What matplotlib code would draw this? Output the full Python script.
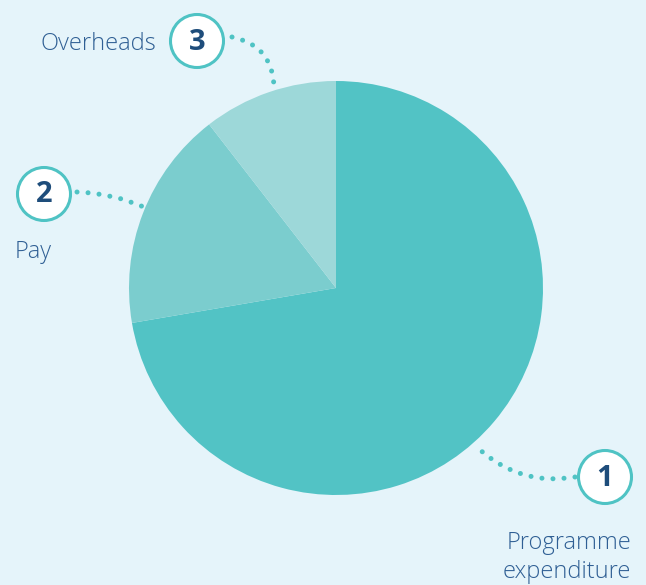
import matplotlib
matplotlib.use("Agg")
import matplotlib.pyplot as plt
from matplotlib.patches import Circle

# spending split (share of total)
categories = ["Programme\nexpenditure", "Pay", "Overheads"]
numbers = ["1", "2", "3"]
shares = [72.3, 17.2, 10.5]
colors = ["#52c3c5", "#7bcdce", "#9dd8d9"]

W, H = 646, 585
bg = "#e5f4fa"
teal = "#4fc3c4"
num_color = "#1e4d7b"
txt_color = "#2f5f94"

plt.rcParams["font.family"] = ["Open Sans", "DejaVu Sans"]

fig = plt.figure(figsize=(W / 100, H / 100), dpi=100, facecolor=bg)
ax = fig.add_axes([0, 0, 1, 1])
ax.set_facecolor(bg)

# pie (pixel coords, y measured from the bottom)
ax.pie(shares, colors=colors, startangle=90, counterclock=False,
       center=(336, H - 288), radius=207, frame=True,
       wedgeprops=dict(linewidth=0))
ax.set_xlim(0, W)
ax.set_ylim(0, H)
ax.set_aspect("equal")
ax.axis("off")

# numbered badges: (centre, connector start, connector end, curvature)
badges = [
    ((605, 477), (575, 477), (477, 447), -0.25),
    ((44, 194), (77, 192), (146, 208), -0.1),
    ((197, 41), (232, 37), (274, 88), -0.4),
]
for num, (c, p0, p1, rad) in zip(numbers, badges):
    ax.annotate("", xy=(p1[0], H - p1[1]), xytext=(p0[0], H - p0[1]),
                arrowprops=dict(arrowstyle="-", color=teal, linewidth=3.6,
                                linestyle=(0, (0.01, 2.2)), capstyle="round",
                                shrinkA=0, shrinkB=0,
                                connectionstyle=f"arc3,rad={rad}"))
    ax.add_patch(Circle((c[0], H - c[1]), 26.5, facecolor="white",
                        edgecolor=teal, linewidth=2.2, zorder=5))
    ax.text(c[0], H - c[1] - 1, num, ha="center", va="center",
            fontsize=21, fontweight="bold", color=num_color, zorder=6)

# category labels
lbl = dict(fontsize=17, color=txt_color, fontweight="light", va="baseline")
ax.text(631, H - 549, "Programme", ha="right", **lbl)
ax.text(631, H - 578, "expenditure", ha="right", **lbl)
ax.text(15, H - 258, categories[1], ha="left", **lbl)
ax.text(40, H - 50, categories[2], ha="left", **lbl)

fig.savefig("out.png", dpi=100, facecolor=bg)
